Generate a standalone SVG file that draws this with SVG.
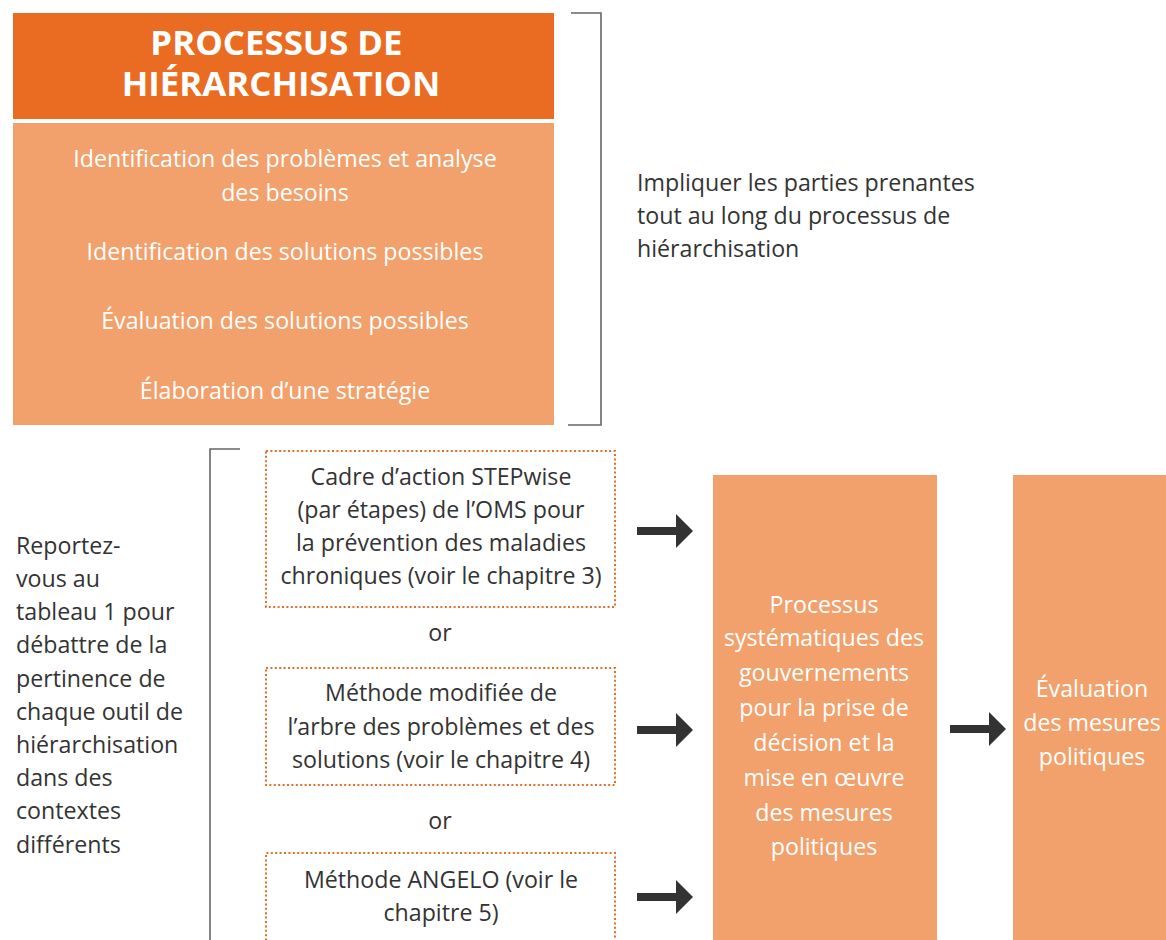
<svg xmlns="http://www.w3.org/2000/svg" width="1166" height="940" viewBox="0 0 1166 940">
  <defs>
    <style>
      .t { font-family: "Open Sans", "Noto Sans", sans-serif; font-size: 23.2px; }
      .w { fill: #ffffff; }
      .d { fill: #333333; }
      .c { text-anchor: middle; }
      .title { font-family: "Open Sans", "Noto Sans", sans-serif; font-weight: bold; font-size: 34.8px; fill: #ffffff; text-anchor: middle; }
      .box { fill: #F2A16C; }
      .dot { fill: none; stroke: #E96C22; stroke-width: 2; stroke-dasharray: 2 2.4; }
      .brk { fill: none; stroke: #666666; stroke-width: 1.6; }
      .arr { fill: #333333; }
    </style>
    <path id="arrow" d="M0,-4 L39,-4 L39,-17 L56,0 L39,17 L39,4 L0,4 Z"/>
  </defs>
  <rect width="1166" height="940" fill="#ffffff"/>

  <!-- Prioritisation process block; the two-line title is one text element -->
  <g id="process">
    <rect x="13" y="13" width="541" height="106" fill="#E96C22"/>
    <text class="title">
      <tspan x="281" y="55">PROCESSUS DE</tspan>
      <tspan x="281" y="96">HIÉRARCHISATION</tspan>
    </text>
    <rect class="box" x="13" y="123" width="541" height="302"/>
    <text class="t w c" x="285" y="167">Identification des problèmes et analyse</text>
    <text class="t w c" x="285" y="201">des besoins</text>
    <text class="t w c" x="285" y="260">Identification des solutions possibles</text>
    <text class="t w c" x="285" y="329">Évaluation des solutions possibles</text>
    <text class="t w c" x="285" y="399">Élaboration d’une stratégie</text>
  </g>

  <g id="stakeholders">
    <path class="brk" d="M571,13 H601 V425 H568"/>
    <text class="t d" x="637" y="191">Impliquer les parties prenantes</text>
    <text class="t d" x="637" y="224">tout au long du processus de</text>
    <text class="t d" x="637" y="257">hiérarchisation</text>
  </g>

  <g id="table-note">
    <path class="brk" d="M240,449 H210 V940"/>
    <text class="t d" x="16" y="554">Reportez-</text>
    <text class="t d" x="16" y="587">vous au</text>
    <text class="t d" x="16" y="620">tableau 1 pour</text>
    <text class="t d" x="16" y="653">débattre de la</text>
    <text class="t d" x="16" y="687">pertinence de</text>
    <text class="t d" x="16" y="720">chaque outil de</text>
    <text class="t d" x="16" y="753">hiérarchisation</text>
    <text class="t d" x="16" y="786">dans des</text>
    <text class="t d" x="16" y="819">contextes</text>
    <text class="t d" x="16" y="853">différents</text>
  </g>

  <g id="stepwise">
    <rect class="dot" x="266" y="451" width="349" height="156"/>
    <text class="t d c" x="441" y="485">Cadre d’action STEPwise</text>
    <text class="t d c" x="441" y="518">(par étapes) de l’OMS pour</text>
    <text class="t d c" x="441" y="551">la prévention des maladies</text>
    <text class="t d c" x="441" y="584">chroniques (voir le chapitre 3)</text>
  </g>

  <g id="or1"><text class="t d c" x="440" y="641">or</text></g>

  <g id="problem-tree">
    <rect class="dot" x="266" y="668" width="349" height="117"/>
    <text class="t d c" x="441" y="701">Méthode modifiée de</text>
    <text class="t d c" x="441" y="735">l’arbre des problèmes et des</text>
    <text class="t d c" x="441" y="768">solutions (voir le chapitre 4)</text>
  </g>

  <g id="or2"><text class="t d c" x="440" y="829">or</text></g>

  <g id="angelo">
    <path class="dot" d="M266,945 V853 H615 V945"/>
    <text class="t d c" x="441" y="888">Méthode ANGELO (voir le</text>
    <text class="t d c" x="441" y="921">chapitre 5)</text>
  </g>

  <g id="government">
    <rect class="box" x="713" y="475" width="224" height="465"/>
    <text class="t w c" x="824" y="613">Processus</text>
    <text class="t w c" x="824" y="646">systématiques des</text>
    <text class="t w c" x="824" y="681">gouvernements</text>
    <text class="t w c" x="824" y="716">pour la prise de</text>
    <text class="t w c" x="824" y="751">décision et la</text>
    <text class="t w c" x="824" y="786">mise en œuvre</text>
    <text class="t w c" x="824" y="821">des mesures</text>
    <text class="t w c" x="824" y="855">politiques</text>
  </g>

  <g id="evaluation">
    <rect class="box" x="1013" y="475" width="153" height="465"/>
    <text class="t w c" x="1092" y="697">Évaluation</text>
    <text class="t w c" x="1092" y="731">des mesures</text>
    <text class="t w c" x="1092" y="765">politiques</text>
  </g>

  <g id="connectors">
    <use href="#arrow" class="arr" x="637" y="531"/>
    <use href="#arrow" class="arr" x="637" y="730"/>
    <use href="#arrow" class="arr" x="637" y="897"/>
    <use href="#arrow" class="arr" x="950" y="729"/>
  </g>
</svg>
